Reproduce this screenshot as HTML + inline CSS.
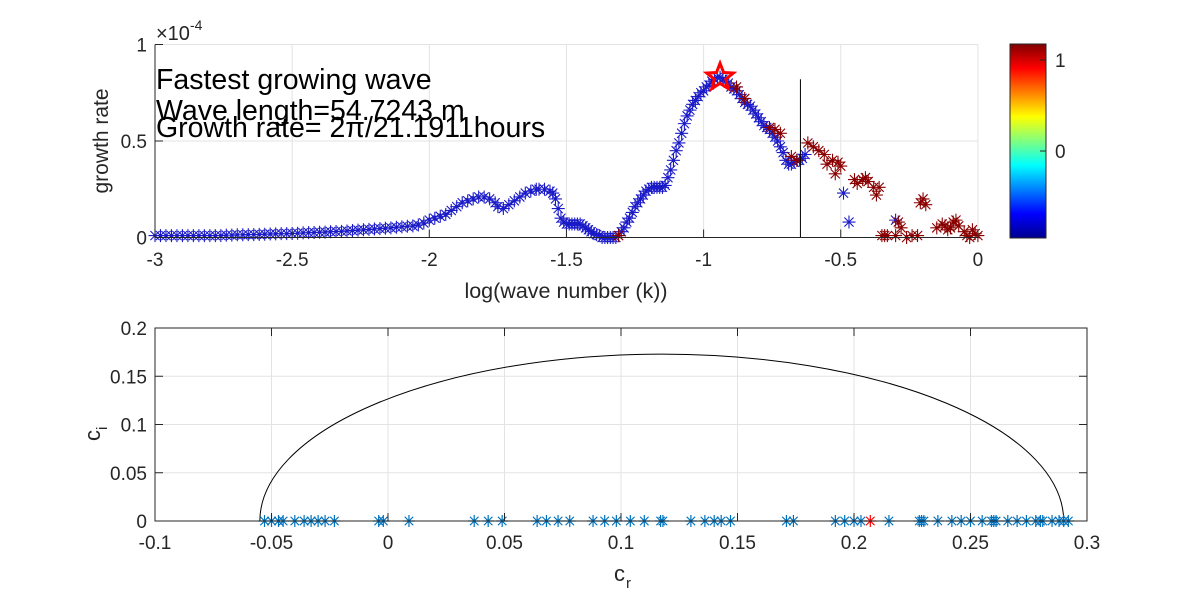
<!DOCTYPE html>
<html><head><meta charset="utf-8"><style>
body{margin:0;background:#fff}
svg{display:block;font-family:"Liberation Sans",sans-serif}
</style></head><body>
<svg id="fig" width="1200" height="600" viewBox="0 0 1200 600">
<defs>
<linearGradient id="jet" x1="0" y1="1" x2="0" y2="0">
<stop offset="0" stop-color="#00008f"/><stop offset="0.125" stop-color="#0000ff"/>
<stop offset="0.375" stop-color="#00ffff"/><stop offset="0.625" stop-color="#ffff00"/>
<stop offset="0.875" stop-color="#ff0000"/><stop offset="1" stop-color="#800000"/>
</linearGradient>
</defs>
<g id="top"></g>
<g id="bot"></g>
</svg>
<script>
// ---- top chart data (growth rate in 1e-4) ----
const blueX=[-3,-2.98,-2.96,-2.94,-2.92,-2.9,-2.88,-2.86,-2.84,-2.82,-2.8,-2.78,-2.76,-2.74,-2.72,-2.7,-2.68,-2.66,-2.64,-2.62,-2.6,-2.58,-2.56,-2.54,-2.52,-2.5,-2.48,-2.46,-2.44,-2.42,-2.4,-2.38,-2.36,-2.34,-2.32,-2.3,-2.28,-2.26,-2.24,-2.22,-2.2,-2.18,-2.16,-2.14,-2.12,-2.1,-2.08,-2.06,-2.04,-2.02,-2,-1.98,-1.96,-1.94,-1.92,-1.9,-1.88,-1.86,-1.84,-1.82,-1.8,-1.78,-1.76,-1.75,-1.73,-1.71,-1.69,-1.67,-1.65,-1.63,-1.61,-1.6,-1.58,-1.56,-1.55,-1.54,-1.53,-1.52,-1.51,-1.5,-1.49,-1.48,-1.47,-1.46,-1.45,-1.44,-1.43,-1.42,-1.41,-1.4,-1.39,-1.38,-1.37,-1.36,-1.35,-1.34,-1.33,-1.32,-1.31,-1.3,-1.29,-1.28,-1.27,-1.26,-1.25,-1.24,-1.23,-1.22,-1.21,-1.2,-1.19,-1.18,-1.17,-1.16,-1.15,-1.14,-1.13,-1.12,-1.11,-1.1,-1.09,-1.08,-1.07,-1.06,-1.05,-1.04,-1.03,-1.02,-1.01,-1,-0.99,-0.98,-0.97,-0.96,-0.95,-0.94,-0.93,-0.92,-0.91,-0.9,-0.89,-0.88,-0.87,-0.86,-0.85,-0.84,-0.83,-0.82,-0.81,-0.8,-0.79,-0.78,-0.77,-0.76,-0.75,-0.74,-0.73,-0.72,-0.71,-0.7,-0.69,-0.68,-0.67,-0.66,-0.65,-0.64,-0.63,-0.49,-0.47,-0.3];
const blueY=[0.01,0.01,0.01,0.01,0.01,0.01,0.01,0.01,0.01,0.01,0.01,0.01,0.01,0.012,0.012,0.014,0.014,0.015,0.015,0.016,0.017,0.018,0.019,0.02,0.02,0.021,0.022,0.024,0.025,0.026,0.027,0.028,0.03,0.031,0.032,0.034,0.036,0.038,0.04,0.042,0.044,0.046,0.048,0.05,0.053,0.055,0.058,0.06,0.065,0.075,0.09,0.1,0.11,0.12,0.14,0.16,0.18,0.19,0.2,0.21,0.21,0.2,0.18,0.16,0.15,0.17,0.19,0.21,0.23,0.24,0.25,0.25,0.25,0.24,0.23,0.2,0.15,0.1,0.08,0.07,0.07,0.07,0.07,0.07,0.07,0.06,0.05,0.04,0.03,0.02,0.015,0.01,0.0,0.0,0.0,0.0,0.0,0.0,0.01,0.03,0.05,0.08,0.1,0.13,0.16,0.18,0.2,0.22,0.24,0.25,0.26,0.26,0.26,0.26,0.26,0.27,0.31,0.35,0.4,0.45,0.49,0.54,0.59,0.63,0.66,0.69,0.71,0.73,0.75,0.76,0.78,0.79,0.81,0.82,0.83,0.83,0.82,0.81,0.8,0.78,0.77,0.76,0.74,0.72,0.7,0.69,0.68,0.66,0.64,0.62,0.6,0.58,0.57,0.56,0.54,0.52,0.5,0.47,0.44,0.4,0.38,0.38,0.39,0.4,0.4,0.41,0.43,0.23,0.08,0.09];
const redX=[-1.31,-0.88,-0.85,-0.76,-0.74,-0.72,-0.68,-0.66,-0.62,-0.6,-0.58,-0.56,-0.55,-0.53,-0.52,-0.51,-0.5,-0.45,-0.44,-0.42,-0.41,-0.4,-0.38,-0.37,-0.36,-0.35,-0.34,-0.33,-0.3,-0.29,-0.28,-0.26,-0.24,-0.22,-0.21,-0.2,-0.19,-0.15,-0.13,-0.12,-0.11,-0.1,-0.09,-0.08,-0.07,-0.05,-0.04,-0.03,-0.02,-0.01,0];
const redY=[0.01,0.78,0.72,0.57,0.56,0.54,0.42,0.4,0.49,0.47,0.45,0.43,0.38,0.4,0.33,0.39,0.37,0.3,0.28,0.3,0.31,0.29,0.26,0.22,0.26,0.01,0.01,0.01,0.01,0.08,0.05,0.0,0.01,0.01,0.18,0.2,0.17,0.05,0.07,0.06,0.04,0.05,0.08,0.09,0.06,0.03,0.01,0.0,0.04,0.02,0.01];
const starX=-0.94, starY=0.83;
const xTicksTop=[-3,-2.5,-2,-1.5,-1,-0.5,0];
const yTicksTop=[0,0.5,1];
const cbTicks=[0,1];
// ---- bottom chart data ----
const crVals=[-0.053,-0.05,-0.047,-0.045,-0.04,-0.036,-0.033,-0.03,-0.027,-0.023,-0.004,-0.002,0.009,0.037,0.043,0.049,0.064,0.068,0.073,0.078,0.088,0.093,0.098,0.104,0.11,0.117,0.118,0.13,0.136,0.14,0.143,0.147,0.171,0.174,0.192,0.196,0.2,0.203,0.215,0.228,0.229,0.23,0.236,0.242,0.246,0.25,0.255,0.259,0.26,0.261,0.266,0.27,0.274,0.278,0.28,0.281,0.285,0.288,0.29,0.292];
const ciVals=crVals.map(()=>0);
const redCr=[0.207], redCi=[0];
const semiLeft=-0.055, semiRight=0.29, semiTop=0.173;
const xTicksBot=[-0.1,-0.05,0,0.05,0.1,0.15,0.2,0.25,0.3];
const yTicksBot=[0,0.05,0.1,0.15,0.2];

const NS="http://www.w3.org/2000/svg";
const FS=19;
function mk(p,t,a,txt){const e=document.createElementNS(NS,t);for(const k in a)e.setAttribute(k,a[k]);if(txt!==undefined)e.textContent=txt;p.appendChild(e);return e;}
function star(cx,cy,r){let d='';for(let i=0;i<4;i++){const a=i*Math.PI/4;const dx=r*Math.sin(a),dy=r*Math.cos(a);d+=`M${cx-dx},${cy-dy}L${cx+dx},${cy+dy}`;}return d;}

const T=document.getElementById('top');
const tx=v=>155+(v+3)*274.3, ty=v=>237.5-v*193;
for(const v of xTicksTop){ if(v>-3&&v<0){const g=mk(T,'line',{x1:tx(v),x2:tx(v),y1:ty(0),y2:ty(1),stroke:'#e3e3e3'});}}
for(const v of yTicksTop){ if(v>0&&v<1){const g=mk(T,'line',{x1:tx(-3),x2:tx(0),y1:ty(v),y2:ty(v),stroke:'#e3e3e3'});}}
let bd='';blueX.forEach((x,i)=>bd+=star(tx(x),ty(blueY[i]),6.5));
const bp=mk(T,'path',{d:bd,stroke:'#1a1ac8',fill:'none','stroke-width':1.1});

let rd='';redX.forEach((x,i)=>rd+=star(tx(x),ty(redY[i]),6.5));
const rp=mk(T,'path',{d:rd,stroke:'#8a0000',fill:'none','stroke-width':1.1});

{let d='';for(let i=0;i<10;i++){const r=i%2?6:14,a=-Math.PI/2+i*Math.PI/5;d+=(i?'L':'M')+(tx(starX)+r*Math.cos(a))+','+(ty(starY)+r*Math.sin(a));}
const s=mk(T,'path',{d:d+'Z',stroke:'#ff0000',fill:'none','stroke-width':3});}
const vl=mk(T,'line',{x1:tx(-0.647),x2:tx(-0.647),y1:ty(0),y2:ty(0.82),stroke:'#000','stroke-width':1});

mk(T,'path',{d:`M${tx(-3)},${ty(1)}H${tx(0)}V${ty(0)}`,fill:'none',stroke:'#e3e3e3'});
const ab=mk(T,'path',{d:`M${tx(-3)},${ty(1)}V${ty(0)}H${tx(0)}`,fill:'none',stroke:'#262626'});

for(const v of xTicksTop){mk(T,'line',{x1:tx(v),x2:tx(v),y1:ty(0),y2:ty(0)-8,stroke:'#262626'});
const t=mk(T,'text',{x:tx(v),y:266,'text-anchor':'middle','font-size':FS,fill:'#262626'},String(v));}
for(const v of yTicksTop){mk(T,'line',{x1:tx(-3),x2:tx(-3)+8,y1:ty(v),y2:ty(v),stroke:'#262626'});
const t=mk(T,'text',{x:147,y:ty(v)+7,'text-anchor':'end','font-size':FS,fill:'#262626'},String(v));}
{const t=mk(T,'text',{x:156,y:40,'font-size':20,fill:'#262626'},'×10');
mk(T,'text',{x:190,y:30,'font-size':14,fill:'#262626'},'-4');}
{const t=mk(T,'text',{x:566,y:298,'text-anchor':'middle','font-size':21.5,fill:'#262626'},'log(wave number (k))');}
{const t=mk(T,'text',{x:108,y:141,'text-anchor':'middle','font-size':21,fill:'#262626',transform:'rotate(-90 108 141)'},'growth rate');}
[['Fastest growing wave',89],['Wave length=54.7243 m',120],['Growth rate= 2π/21.1911hours',137]].forEach(([s,y],i)=>{const t=mk(T,'text',{x:156,y:y,'font-size':28.5,fill:'#000'},s);});
const cy=v=>151-v*91;
const cb=mk(T,'rect',{x:1010,y:44,width:36,height:194,fill:'url(#jet)',stroke:'#262626'});

for(const v of cbTicks){mk(T,'line',{x1:1040,x2:1046,y1:cy(v),y2:cy(v),stroke:'#262626'});
const t=mk(T,'text',{x:1055,y:cy(v)+7,'font-size':FS,fill:'#262626'},String(v));}

const B=document.getElementById('bot');
const bx=v=>155+(v+0.1)*2330, by=v=>521-v*965;
for(const v of xTicksBot){ if(v>-0.1&&v<0.3){const g=mk(B,'line',{x1:bx(v),x2:bx(v),y1:by(0),y2:by(0.2),stroke:'#e3e3e3'});}}
for(const v of yTicksBot){ if(v>0&&v<0.2){const g=mk(B,'line',{x1:bx(-0.1),x2:bx(0.3),y1:by(v),y2:by(v),stroke:'#e3e3e3'});}}
{const rx=(bx(semiRight)-bx(semiLeft))/2,ry=by(0)-by(semiTop);
const e=mk(B,'path',{d:`M${bx(semiLeft)},${by(0)}A${rx},${ry} 0 0 1 ${bx(semiRight)},${by(0)}`,fill:'none',stroke:'#000','stroke-width':1});
}
let sd='';crVals.forEach((x,i)=>sd+=star(bx(x),by(ciVals[i]),6));
const sp=mk(B,'path',{d:sd,stroke:'#0072bd',fill:'none','stroke-width':1.2});
let rd2='';redCr.forEach((x,i)=>rd2+=star(bx(x),by(redCi[i]),6));
const rp2=mk(B,'path',{d:rd2,stroke:'#ff0000',fill:'none','stroke-width':1.2});
const bb=mk(B,'rect',{x:bx(-0.1),y:by(0.2),width:bx(0.3)-bx(-0.1),height:by(0)-by(0.2),fill:'none',stroke:'#262626'});

for(const v of xTicksBot){mk(B,'line',{x1:bx(v),x2:bx(v),y1:by(0),y2:by(0)-8,stroke:'#262626'});mk(B,'line',{x1:bx(v),x2:bx(v),y1:by(0.2),y2:by(0.2)+8,stroke:'#262626'});
const t=mk(B,'text',{x:bx(v),y:549,'text-anchor':'middle','font-size':FS,fill:'#262626'},String(v));}
for(const v of yTicksBot){mk(B,'line',{x1:bx(-0.1),x2:bx(-0.1)+8,y1:by(v),y2:by(v),stroke:'#262626'});mk(B,'line',{x1:bx(0.3),x2:bx(0.3)-8,y1:by(v),y2:by(v),stroke:'#262626'});
const t=mk(B,'text',{x:147,y:by(v)+7,'text-anchor':'end','font-size':FS,fill:'#262626'},String(v));}
{const t=mk(B,'text',{x:614,y:581,'font-size':22,fill:'#262626'},'c');mk(B,'text',{x:626,y:588,'font-size':15,fill:'#262626'},'r');}
{const t=mk(B,'text',{x:0,y:0,'font-size':22,fill:'#262626',transform:'translate(100 441) rotate(-90)'},'c');mk(B,'text',{x:0,y:0,'font-size':15,fill:'#262626',transform:'translate(107 430) rotate(-90)'},'i');}
</script>
</body></html>
